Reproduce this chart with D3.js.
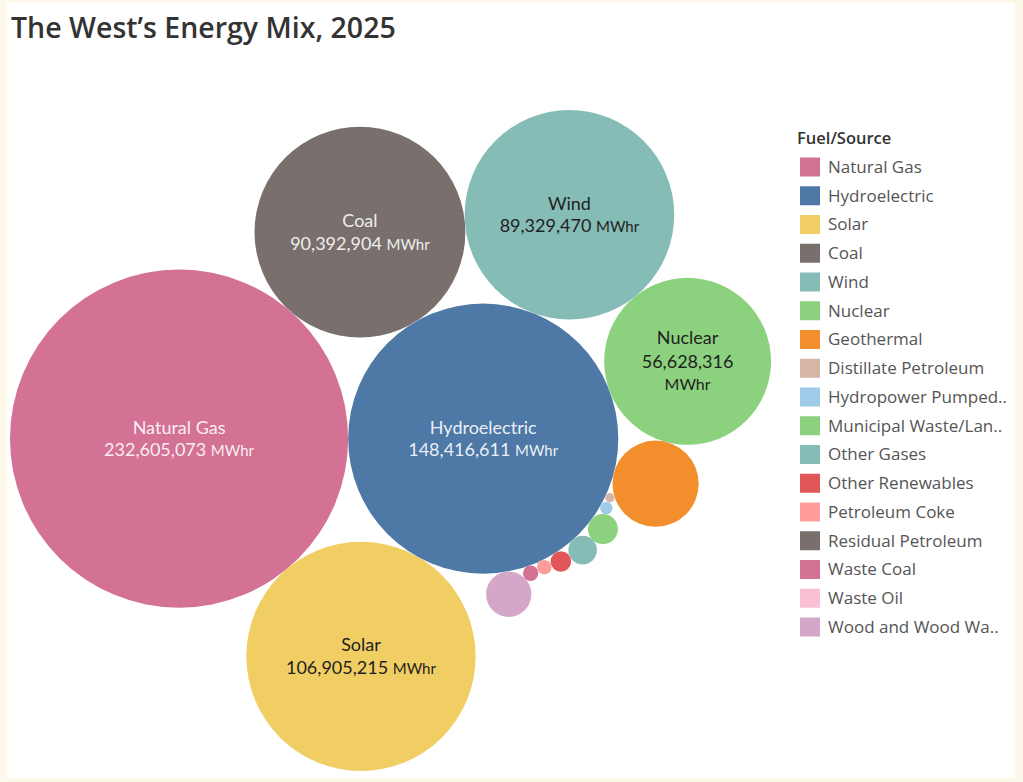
<!DOCTYPE html>
<html>
<head>
<meta charset="utf-8">
<script src="https://cdn.jsdelivr.net/npm/d3@7"></script>
<style>
  body { margin: 0; background: #fdf9ea; }
  svg { display: block; }
</style>
</head>
<body>
<svg id="chart" width="1023" height="782"></svg>
<script>
const sources = [
  "Natural Gas", "Hydroelectric", "Solar", "Coal", "Wind", "Nuclear", "Geothermal",
  "Distillate Petroleum", "Hydropower Pumped Storage", "Municipal Waste/Landfill Gas",
  "Other Gases", "Other Renewables", "Petroleum Coke", "Residual Petroleum",
  "Waste Coal", "Waste Oil", "Wood and Wood Waste"
];
// legend text as it is cut off in the view
const legendLabels = [
  "Natural Gas", "Hydroelectric", "Solar", "Coal", "Wind", "Nuclear", "Geothermal",
  "Distillate Petroleum", "Hydropower Pumped..", "Municipal Waste/Lan..",
  "Other Gases", "Other Renewables", "Petroleum Coke", "Residual Petroleum",
  "Waste Coal", "Waste Oil", "Wood and Wood Wa.."
];
const mwhr = [
  232605073, 148416611, 106905215, 90392904, 89329470, 56628316, 15100000,
  180000, 320000, 1820000, 1660000, 860000, 430000, 3000,
  480000, 1500, 4170000
];
const colors = [
  "#d37295", "#4e79a7", "#f1ce63", "#79706e", "#86bcb6", "#8cd17d", "#f28e2b",
  "#d7b5a6", "#a0cbe8", "#8cd17d", "#86bcb6", "#e15759", "#ff9d9a", "#79706e",
  "#d37295", "#fabfd2", "#d4a6c8"
];
const title = "The West\u2019s Energy Mix, 2025";
const legendTitle = "Fuel/Source";
const unit = "MWhr";

const W = 1023, H = 782;
const pane = { x: 9, y: 110, w: 763, h: 661 };
const labelFont = "Lato, 'Open Sans', sans-serif";
const uiFont = "'Open Sans', Lato, sans-serif";

const svg = d3.select("#chart");

svg.append("rect")
    .attr("x", 7).attr("y", 3)
    .attr("width", 1008).attr("height", 775)
    .attr("fill", "#ffffff");

svg.append("text")
    .attr("x", 11)
    .attr("y", 38)
    .style("font-family", uiFont)
    .style("font-size", "28.5px")
    .style("font-weight", "600")
    .style("fill", "#333333")
    .text(title);

// --- packing: front chain, each new bubble goes beside the one placed before it ---

function place(b, a, c) {
  const dx = b.x - a.x, dy = b.y - a.y, d2 = dx * dx + dy * dy;
  let x, y;
  let a2 = a.r + c.r; a2 *= a2;
  let b2 = b.r + c.r; b2 *= b2;
  if (a2 > b2) {
    x = (d2 + b2 - a2) / (2 * d2);
    y = Math.sqrt(Math.max(0, b2 / d2 - x * x));
    c.x = b.x - x * dx - y * dy;
    c.y = b.y - x * dy + y * dx;
  } else {
    x = (d2 + a2 - b2) / (2 * d2);
    y = Math.sqrt(Math.max(0, a2 / d2 - x * x));
    c.x = a.x + x * dx - y * dy;
    c.y = a.y + x * dy + y * dx;
  }
}

function intersects(a, b) {
  const dr = a.r + b.r - 1e-6, dx = b.x - a.x, dy = b.y - a.y;
  return dr > 0 && dr * dr > dx * dx + dy * dy;
}

function packBubbles(circles) {
  const n = circles.length;
  let a = circles[0], b = circles[1];
  a.x = -b.r; a.y = 0;
  b.x = a.r; b.y = 0;
  const c0 = circles[2];
  place(b, a, c0);

  a = { _: a }; b = { _: b };
  const nc = { _: c0 };
  a.next = nc.previous = b;
  b.next = a.previous = nc;
  nc.next = b.previous = a;

  pack: for (let i = 3; i < n; ++i) {
    const c = circles[i];
    place(a._, b._, c);
    let j = b.next, k = a.previous, sj = b._.r, sk = a._.r;
    do {
      if (sj <= sk) {
        if (intersects(j._, c)) {
          b = j; a.next = b; b.previous = a; --i;
          continue pack;
        }
        sj += j._.r; j = j.next;
      } else {
        if (intersects(k._, c)) {
          a = k; a.next = b; b.previous = a; --i;
          continue pack;
        }
        sk += k._.r; k = k.previous;
      }
    } while (j !== k.next);

    const node = { _: c, previous: a, next: b };
    a.next = b.previous = node;
    a = node;
    b = node.next;
  }
  return circles;
}

const bubbles = packBubbles(sources.map((name, i) => ({
  name, value: mwhr[i], color: colors[i], r: Math.sqrt(mwhr[i])
})));

const x0 = d3.min(bubbles, d => d.x - d.r), x1 = d3.max(bubbles, d => d.x + d.r);
const y0 = d3.min(bubbles, d => d.y - d.r), y1 = d3.max(bubbles, d => d.y + d.r);
const k = Math.min(pane.w / (x1 - x0), pane.h / (y1 - y0));

const xScale = d3.scaleLinear()
    .domain([x0, x1])
    .range([pane.x + (pane.w - (x1 - x0) * k) / 2, pane.x + (pane.w + (x1 - x0) * k) / 2]);
const yScale = d3.scaleLinear()
    .domain([y0, y1])
    .range([pane.y + (pane.h - (y1 - y0) * k) / 2, pane.y + (pane.h + (y1 - y0) * k) / 2]);
const rScale = d3.scaleSqrt()
    .domain([0, d3.max(mwhr)])
    .range([0, Math.sqrt(d3.max(mwhr)) * k]);

const bubbleG = svg.append("g").attr("class", "bubbles");

bubbleG.selectAll("circle")
    .data(bubbles)
    .join("circle")
    .attr("cx", d => xScale(d.x))
    .attr("cy", d => yScale(d.y))
    .attr("r", d => rScale(d.value))
    .attr("fill", d => d.color);

// labels on the bubbles that are big enough
const fmt = d3.format(",");
const measurer = svg.append("text").style("font-family", labelFont).attr("opacity", 0);
function textWidth(str, size) {
  measurer.style("font-size", size + "px").text(str);
  return measurer.node().getComputedTextLength();
}

const labelled = bubbles.filter(d => rScale(d.value) > 60);
labelled.forEach(d => {
  const r = rScale(d.value);
  const cx = xScale(d.x), cy = yScale(d.y);
  const light = d3.hcl(d.color).l > 65;
  const fill = light ? "#1f1f1f" : "rgba(255,255,255,0.9)";
  const lineW = textWidth(fmt(d.value), 18) + 4 + textWidth(unit, 15);
  const wrap = lineW > r * 1.6;
  const lineH = wrap ? 23.5 : 22.5;
  const lines = wrap ? 3 : 2;
  const firstY = cy - (lines - 1) * lineH / 2;

  const t = bubbleG.append("text")
      .attr("text-anchor", "middle")
      .style("font-family", labelFont)
      .style("fill", fill);

  t.append("tspan")
      .attr("x", cx).attr("y", firstY)
      .attr("dy", "0.35em")
      .style("font-size", "18px")
      .text(d.name);

  t.append("tspan")
      .attr("x", cx).attr("y", firstY + lineH)
      .attr("dy", "0.35em")
      .style("font-size", "18px")
      .text(fmt(d.value) + (wrap ? "" : " "));

  if (wrap) {
    t.append("tspan")
        .attr("x", cx).attr("y", firstY + 2 * lineH)
        .attr("dy", "0.35em")
        .style("font-size", "16px")
        .text(unit);
  } else {
    t.append("tspan")
        .style("font-size", "15px")
        .text(unit);
  }
});
measurer.remove();

// --- legend ---
const legend = svg.append("g").attr("class", "legend");
const legendX = 800, legendTop = 167, legendStep = 28.75;

legend.append("text")
    .attr("x", 797)
    .attr("y", 144)
    .style("font-family", uiFont)
    .style("font-size", "16.5px")
    .style("font-weight", "600")
    .style("fill", "#333333")
    .text(legendTitle);

const items = legend.selectAll("g.item")
    .data(legendLabels)
    .join("g")
    .attr("class", "item")
    .attr("transform", (d, i) => `translate(${legendX}, ${legendTop + i * legendStep})`);

items.append("rect")
    .attr("x", 0).attr("y", -9.5)
    .attr("width", 20).attr("height", 19)
    .attr("fill", (d, i) => colors[i]);

items.append("text")
    .attr("x", 28)
    .attr("dy", "0.35em")
    .style("font-family", uiFont)
    .style("font-size", "17px")
    .style("fill", "#555555")
    .text(d => d);
</script>
</body>
</html>
